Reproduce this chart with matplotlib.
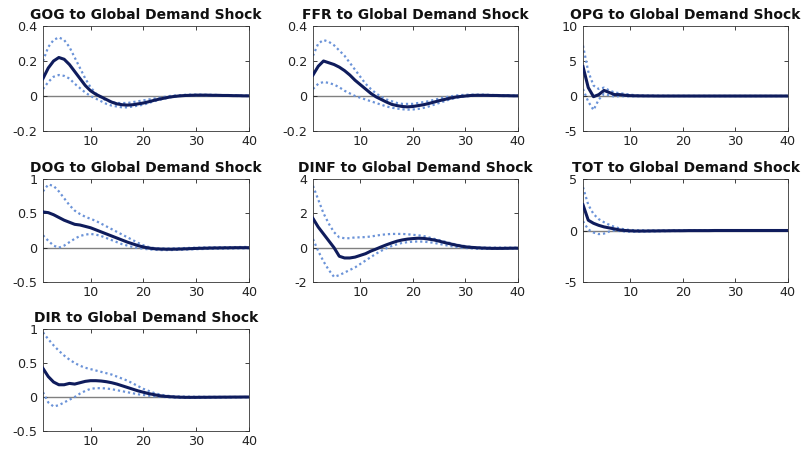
import matplotlib
matplotlib.use("Agg")
import matplotlib.pyplot as plt
import numpy as np

plt.rcParams['font.family'] = ['DejaVu Sans']

horizon = list(range(1, 41))

titles = ["GOG to Global Demand Shock", "FFR to Global Demand Shock", "OPG to Global Demand Shock",
          "DOG to Global Demand Shock", "DINF to Global Demand Shock", "TOT to Global Demand Shock",
          "DIR to Global Demand Shock"]

gog_med = [0.10,0.16,0.20,0.22,0.21,0.18,0.14,0.10,0.06,0.03,0.01,-0.005,-0.02,-0.035,-0.045,-0.05,-0.052,-0.05,-0.045,-0.04,-0.033,-0.025,-0.018,-0.012,-0.006,-0.002,0.001,0.003,0.004,0.005,0.005,0.005,0.004,0.004,0.003,0.003,0.002,0.002,0.001,0.001]
gog_up = [0.20,0.28,0.32,0.335,0.32,0.28,0.22,0.16,0.10,0.05,0.015,-0.01,-0.025,-0.035,-0.04,-0.04,-0.04,-0.035,-0.03,-0.025,-0.02,-0.015,-0.01,-0.005,0.0,0.003,0.005,0.007,0.008,0.008,0.008,0.007,0.007,0.006,0.005,0.004,0.003,0.003,0.002,0.002]
gog_lo = [0.04,0.08,0.11,0.12,0.115,0.10,0.07,0.045,0.02,0.0,-0.015,-0.03,-0.045,-0.055,-0.06,-0.065,-0.065,-0.06,-0.055,-0.05,-0.04,-0.03,-0.022,-0.015,-0.008,-0.003,0.0,0.002,0.002,0.003,0.003,0.002,0.002,0.002,0.001,0.001,0.001,0.0,0.0,0.0]

ffr_med = [0.12,0.17,0.20,0.19,0.18,0.165,0.145,0.12,0.09,0.065,0.04,0.015,-0.005,-0.02,-0.035,-0.048,-0.055,-0.06,-0.062,-0.06,-0.055,-0.05,-0.043,-0.035,-0.027,-0.02,-0.013,-0.007,-0.003,0.0,0.003,0.004,0.004,0.004,0.003,0.003,0.002,0.002,0.001,0.001]
ffr_up = [0.23,0.30,0.32,0.31,0.29,0.26,0.23,0.19,0.15,0.11,0.07,0.04,0.015,-0.005,-0.02,-0.03,-0.04,-0.045,-0.045,-0.045,-0.04,-0.035,-0.03,-0.022,-0.015,-0.008,-0.003,0.002,0.005,0.007,0.008,0.008,0.008,0.007,0.006,0.005,0.004,0.004,0.003,0.003]
ffr_lo = [0.04,0.07,0.08,0.075,0.065,0.05,0.03,0.015,0.0,-0.01,-0.02,-0.03,-0.04,-0.05,-0.06,-0.067,-0.072,-0.076,-0.078,-0.077,-0.074,-0.068,-0.06,-0.05,-0.04,-0.03,-0.02,-0.012,-0.006,-0.002,0.0,0.001,0.001,0.001,0.001,0.0,0.0,0.0,0.0,0.0]

opg_med = [4.2,1.2,-0.1,0.2,0.8,0.5,0.2,0.2,0.1,0.05,0.03,0.02,0.01,0.01,0.0,0.0,0.0,0.0,0.0,0.0,0.0,0.0,0.0,0.0,0.0,0.0,0.0,0.0,0.0,0.0,0.0,0.0,0.0,0.0,0.0,0.0,0.0,0.0,0.0,0.0]
opg_up = [7.2,3.5,1.5,1.0,1.2,0.8,0.5,0.4,0.3,0.2,0.1,0.08,0.06,0.05,0.04,0.03,0.03,0.02,0.02,0.02,0.02,0.01,0.01,0.01,0.01,0.01,0.01,0.01,0.01,0.01,0.01,0.01,0.01,0.01,0.01,0.01,0.01,0.01,0.01,0.01]
opg_lo = [1.0,-0.8,-2.0,-0.5,0.3,0.1,-0.1,0.0,-0.05,-0.05,-0.04,-0.03,-0.02,-0.02,-0.01,-0.01,-0.01,-0.01,-0.01,-0.01,-0.01,-0.01,-0.01,-0.01,-0.01,-0.01,-0.01,-0.01,-0.01,-0.01,-0.01,-0.01,-0.01,-0.01,-0.01,-0.01,-0.01,-0.01,-0.01,-0.01]

dog_med = [0.52,0.51,0.48,0.44,0.40,0.37,0.34,0.33,0.31,0.29,0.26,0.23,0.20,0.17,0.14,0.11,0.08,0.055,0.03,0.01,-0.005,-0.015,-0.02,-0.022,-0.023,-0.022,-0.02,-0.017,-0.014,-0.011,-0.009,-0.007,-0.005,-0.004,-0.003,-0.002,-0.001,0.0,0.0,0.0]
dog_up = [0.82,0.92,0.90,0.82,0.72,0.62,0.54,0.49,0.45,0.42,0.39,0.35,0.31,0.27,0.23,0.19,0.15,0.11,0.07,0.035,0.01,-0.005,-0.01,-0.012,-0.012,-0.01,-0.008,-0.005,-0.003,0.0,0.002,0.004,0.005,0.006,0.007,0.008,0.008,0.009,0.01,0.01]
dog_lo = [0.18,0.10,0.03,0.0,0.03,0.08,0.13,0.17,0.19,0.20,0.19,0.17,0.14,0.11,0.08,0.05,0.03,0.01,-0.005,-0.015,-0.025,-0.03,-0.035,-0.035,-0.035,-0.033,-0.03,-0.028,-0.025,-0.022,-0.02,-0.018,-0.016,-0.014,-0.013,-0.012,-0.011,-0.01,-0.01,-0.01]

dinf_med = [1.7,1.2,0.8,0.4,0.0,-0.5,-0.6,-0.6,-0.55,-0.45,-0.35,-0.2,-0.08,0.05,0.17,0.28,0.38,0.45,0.5,0.53,0.55,0.54,0.5,0.45,0.38,0.3,0.23,0.16,0.1,0.05,0.02,0.0,-0.02,-0.03,-0.04,-0.04,-0.04,-0.035,-0.03,-0.03]
dinf_up = [3.6,2.8,2.0,1.4,0.9,0.6,0.55,0.55,0.6,0.6,0.62,0.65,0.7,0.75,0.78,0.8,0.8,0.8,0.78,0.75,0.72,0.68,0.6,0.52,0.44,0.36,0.28,0.2,0.14,0.09,0.05,0.02,0.01,0.0,0.0,0.0,0.0,0.0,0.0,0.0]
dinf_lo = [0.5,-0.2,-0.8,-1.3,-1.7,-1.6,-1.45,-1.3,-1.15,-0.95,-0.75,-0.55,-0.35,-0.18,-0.03,0.1,0.2,0.28,0.32,0.35,0.36,0.35,0.32,0.28,0.22,0.16,0.1,0.05,0.01,-0.02,-0.04,-0.06,-0.07,-0.07,-0.07,-0.07,-0.06,-0.06,-0.05,-0.05]

tot_med = [2.5,1.0,0.7,0.5,0.35,0.25,0.15,0.05,0.0,-0.03,-0.05,-0.05,-0.05,-0.04,-0.04,-0.03,-0.03,-0.02,-0.02,-0.02,-0.01,-0.01,-0.01,-0.01,-0.01,0.0,0.0,0.0,0.0,0.0,0.0,0.0,0.0,0.0,0.0,0.0,0.0,0.0,0.0,0.0]
tot_up = [4.2,2.5,1.6,1.1,0.8,0.55,0.35,0.2,0.1,0.05,0.03,0.02,0.01,0.01,0.01,0.01,0.01,0.01,0.01,0.01,0.01,0.01,0.01,0.01,0.01,0.01,0.01,0.01,0.01,0.01,0.01,0.01,0.01,0.01,0.01,0.01,0.01,0.01,0.01,0.01]
tot_lo = [0.9,0.1,-0.2,-0.35,-0.3,-0.1,0.0,-0.05,-0.1,-0.12,-0.12,-0.12,-0.1,-0.1,-0.08,-0.07,-0.06,-0.05,-0.05,-0.04,-0.04,-0.03,-0.03,-0.02,-0.02,-0.02,-0.01,-0.01,-0.01,-0.01,-0.01,-0.01,-0.01,-0.01,-0.01,-0.01,-0.01,-0.01,-0.01,-0.01]

dir_med = [0.42,0.30,0.22,0.18,0.18,0.20,0.19,0.21,0.23,0.24,0.24,0.235,0.225,0.21,0.19,0.165,0.14,0.115,0.09,0.07,0.05,0.035,0.02,0.01,0.005,0.0,-0.003,-0.005,-0.005,-0.005,-0.004,-0.004,-0.003,-0.003,-0.002,-0.002,-0.001,-0.001,0.0,0.0]
dir_up = [0.95,0.85,0.76,0.68,0.61,0.55,0.50,0.46,0.43,0.41,0.39,0.37,0.35,0.33,0.30,0.27,0.24,0.20,0.16,0.12,0.09,0.06,0.04,0.025,0.015,0.01,0.007,0.005,0.004,0.003,0.003,0.002,0.002,0.002,0.001,0.001,0.001,0.0,0.0,0.0]
dir_lo = [0.07,-0.08,-0.14,-0.12,-0.08,-0.04,0.0,0.05,0.09,0.12,0.13,0.13,0.125,0.115,0.10,0.085,0.07,0.055,0.04,0.03,0.02,0.01,0.005,0.0,-0.005,-0.008,-0.01,-0.012,-0.012,-0.012,-0.011,-0.01,-0.009,-0.008,-0.007,-0.006,-0.005,-0.004,-0.003,-0.003]

ylims = [(-0.2, 0.4), (-0.2, 0.4), (-5, 10), (-0.5, 1), (-2, 4), (-5, 5), (-0.5, 1)]
yticks = [[-0.2, 0, 0.2, 0.4], [-0.2, 0, 0.2, 0.4], [-5, 0, 5, 10], [-0.5, 0, 0.5, 1],
          [-2, 0, 2, 4], [-5, 0, 5], [-0.5, 0, 0.5, 1]]
ytick_labels = [["-0.2", "0", "0.2", "0.4"], ["-0.2", "0", "0.2", "0.4"], ["-5", "0", "5", "10"],
                ["-0.5", "0", "0.5", "1"], ["-2", "0", "2", "4"], ["-5", "0", "5"],
                ["-0.5", "0", "0.5", "1"]]
xticks = [10, 20, 30, 40]

series = [(gog_med, gog_up, gog_lo), (ffr_med, ffr_up, ffr_lo), (opg_med, opg_up, opg_lo),
          (dog_med, dog_up, dog_lo), (dinf_med, dinf_up, dinf_lo), (tot_med, tot_up, tot_lo),
          (dir_med, dir_up, dir_lo)]

W, H = 801, 451
fig = plt.figure(figsize=(W / 100, H / 100), dpi=100)
fig.patch.set_facecolor('white')

cols = [(43, 249), (313, 518), (583, 788)]
rows = [(26, 131), (179, 282), (329, 431)]

navy = '#0f1c5c'
light = '#6b93d8'

for i in range(7):
    r, c = divmod(i, 3)
    x0, x1 = cols[c]
    y0, y1 = rows[r]
    ax = fig.add_axes([x0 / W, 1 - y1 / H, (x1 - x0) / W, (y1 - y0) / H])
    med, up, lo = series[i]
    ax.axhline(0, color='#808080', lw=1.0, zorder=1)
    ax.plot(horizon, up, color=light, lw=1.6, ls=(0, (1, 1.3)), zorder=2)
    ax.plot(horizon, lo, color=light, lw=1.6, ls=(0, (1, 1.3)), zorder=2)
    ax.plot(horizon, med, color=navy, lw=2.2, zorder=3)
    ax.set_xlim(1, 40)
    ax.set_ylim(*ylims[i])
    ax.set_xticks(xticks)
    ax.set_xticklabels([str(t) for t in xticks])
    ax.set_yticks(yticks[i])
    ax.set_yticklabels(ytick_labels[i])
    ax.tick_params(direction='in', top=True, right=True, length=3, width=0.6,
                   labelsize=9.2, colors='#222222')
    ax.tick_params(axis='x', pad=3)
    ax.tick_params(axis='y', pad=4)
    for sp in ax.spines.values():
        sp.set_linewidth(0.6)
        sp.set_color('#333333')
    ax.set_title(titles[i], fontsize=10, fontweight='bold', pad=5, color='#111111')

fig.savefig('out.png', dpi=100, facecolor='white')
